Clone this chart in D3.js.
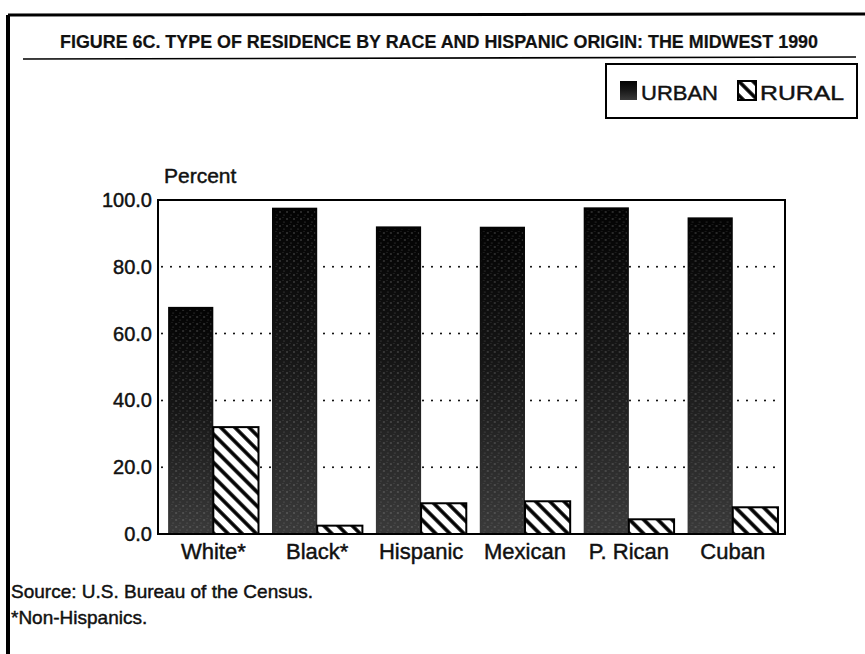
<!DOCTYPE html>
<html>
<head>
<meta charset="utf-8">
<script src="https://cdn.jsdelivr.net/npm/d3@7"></script>
<style>
  body { margin: 0; background: #fff; }
  text { font-family: "Liberation Sans", Arial, sans-serif; fill: #111; stroke: #111; stroke-width: 0.45px; }
</style>
</head>
<body>
<div id="chart"></div>
<script>
// Chart data
var categories = ["White*", "Black*", "Hispanic", "Mexican", "P. Rican", "Cuban"];
var series = ["URBAN", "RURAL"];
var urban = [68.0, 97.7, 92.1, 92.0, 97.8, 94.8];
var rural = [32.0, 2.5, 9.2, 9.8, 4.4, 8.0];
var yTicks = [0, 20, 40, 60, 80, 100];

var width = 865, height = 654;
var margin = { top: 200, right: 80, bottom: 120, left: 158 };

var svg = d3.select("#chart").append("svg")
    .attr("width", width)
    .attr("height", height);

var defs = svg.append("defs");

// grainy dark fill for urban bars
var grad = defs.append("linearGradient")
    .attr("id", "urbanGrad")
    .attr("x1", 0).attr("y1", 0).attr("x2", 0).attr("y2", 1);
grad.append("stop").attr("offset", "0%").attr("stop-color", "#030303");
grad.append("stop").attr("offset", "45%").attr("stop-color", "#161616");
grad.append("stop").attr("offset", "100%").attr("stop-color", "#3a3a3a");

var speck = defs.append("pattern")
    .attr("id", "speck")
    .attr("patternUnits", "userSpaceOnUse")
    .attr("width", 7).attr("height", 7);
speck.append("circle").attr("cx", 1).attr("cy", 2).attr("r", 0.7).attr("fill", "#aaa");
speck.append("circle").attr("cx", 5).attr("cy", 5).attr("r", 0.6).attr("fill", "#888");
speck.append("circle").attr("cx", 4).attr("cy", 0.5).attr("r", 0.4).attr("fill", "#999");

// diagonal hatch for rural bars
var hatch = defs.append("pattern")
    .attr("id", "hatch")
    .attr("patternUnits", "userSpaceOnUse")
    .attr("width", 10).attr("height", 10)
    .attr("patternTransform", "rotate(-45)");
hatch.append("rect").attr("width", 10).attr("height", 10).attr("fill", "#fff");
hatch.append("line")
    .attr("x1", 5).attr("y1", 0).attr("x2", 5).attr("y2", 10)
    .attr("stroke", "#000").attr("stroke-width", 3.6);

// outer frame (left and top edges of the page box)
svg.append("line").attr("x1", 8).attr("y1", 15).attr("x2", 8).attr("y2", height)
    .attr("stroke", "#000").attr("stroke-width", 4);
svg.append("line").attr("x1", 8).attr("y1", 15).attr("x2", width).attr("y2", 14)
    .attr("stroke", "#000").attr("stroke-width", 3);

// title
svg.append("text")
    .attr("x", 60).attr("y", 48)
    .attr("textLength", 758)
    .attr("lengthAdjust", "spacingAndGlyphs")
    .style("font-family", "'Liberation Sans Narrow', 'Liberation Sans', Arial, sans-serif")
    .style("font-weight", "bold")
    .style("font-size", "18px")
    .style("stroke-width", "0.2px")
    .text("FIGURE 6C.  TYPE OF RESIDENCE BY RACE AND HISPANIC ORIGIN: THE MIDWEST 1990");

svg.append("line").attr("x1", 23).attr("y1", 59).attr("x2", 856).attr("y2", 57)
    .attr("stroke", "#000").attr("stroke-width", 1.6);

// scales
var x0 = d3.scaleBand()
    .domain(categories)
    .range([margin.left, width - margin.right])
    .paddingInner(0.13)
    .paddingOuter(0.0825)
    .align(0.59);

var x1 = d3.scaleBand()
    .domain(series)
    .range([0, x0.bandwidth()]);

var y = d3.scaleLinear()
    .domain([0, 100])
    .range([height - margin.bottom, margin.top]);

var plotL = margin.left, plotR = width - margin.right;

// dotted grid
svg.append("g")
    .selectAll("line")
    .data(yTicks.filter(function (d) { return d > 0 && d < 100; }))
    .enter().append("line")
    .attr("x1", plotL + 4).attr("x2", plotR - 4)
    .attr("y1", function (d) { return y(d); })
    .attr("y2", function (d) { return y(d); })
    .attr("stroke", "#000")
    .attr("stroke-width", 2)
    .attr("stroke-linecap", "round")
    .attr("stroke-dasharray", "0,9");

// bars
var rows = categories.map(function (c, i) {
    return { cat: c, values: [{ key: "URBAN", v: urban[i] }, { key: "RURAL", v: rural[i] }] };
});

var groups = svg.append("g").selectAll("g")
    .data(rows)
    .enter().append("g")
    .attr("transform", function (d) { return "translate(" + x0(d.cat) + ",0)"; });

groups.selectAll("rect.urban")
    .data(function (d) { return [d.values[0]]; })
    .enter().append("rect")
    .attr("x", function (d) { return x1(d.key); })
    .attr("y", function (d) { return y(d.v); })
    .attr("width", x1.bandwidth())
    .attr("height", function (d) { return y(0) - y(d.v); })
    .attr("fill", "url(#urbanGrad)");

groups.selectAll("rect.speck")
    .data(function (d) { return [d.values[0]]; })
    .enter().append("rect")
    .attr("x", function (d) { return x1(d.key) + 2; })
    .attr("y", function (d) { return y(d.v) + 3; })
    .attr("width", x1.bandwidth() - 4)
    .attr("height", function (d) { return y(0) - y(d.v) - 3; })
    .attr("fill", "url(#speck)")
    .attr("opacity", 0.6);

groups.selectAll("rect.rural")
    .data(function (d) { return [d.values[1]]; })
    .enter().append("rect")
    .attr("x", function (d) { return x1(d.key); })
    .attr("y", function (d) { return y(d.v); })
    .attr("width", x1.bandwidth())
    .attr("height", function (d) { return y(0) - y(d.v); })
    .attr("fill", "url(#hatch)")
    .attr("stroke", "#000")
    .attr("stroke-width", 2);

// plot box
svg.append("rect")
    .attr("x", plotL).attr("y", y(100))
    .attr("width", plotR - plotL).attr("height", y(0) - y(100))
    .attr("fill", "none")
    .attr("stroke", "#000")
    .attr("stroke-width", 2);

// y axis labels
var yAxis = d3.axisLeft(y)
    .tickValues(yTicks)
    .tickSize(0)
    .tickPadding(6)
    .tickFormat(d3.format(".1f"));

svg.append("g")
    .attr("transform", "translate(" + plotL + ",0)")
    .call(yAxis)
    .call(function (g) { g.select(".domain").remove(); })
    .selectAll("text")
    .style("font-size", "20px")
    .style("font-family", "'Liberation Sans', Arial, sans-serif")
    .attr("fill", "#111");

svg.append("text")
    .attr("x", 164).attr("y", 183)
    .style("font-size", "21px")
    .text("Percent");

// x axis labels
var xAxis = d3.axisBottom(x0).tickSize(0).tickPadding(9);
svg.append("g")
    .attr("transform", "translate(0," + y(0) + ")")
    .call(xAxis)
    .call(function (g) { g.select(".domain").remove(); })
    .selectAll("text")
    .style("font-size", "22px")
    .style("font-family", "'Liberation Sans', Arial, sans-serif")
    .attr("fill", "#111");

// legend
var legend = svg.append("g");
legend.append("rect")
    .attr("x", 606).attr("y", 64)
    .attr("width", 251).attr("height", 54)
    .attr("fill", "#fff")
    .attr("stroke", "#000")
    .attr("stroke-width", 2);
legend.append("rect")
    .attr("x", 620).attr("y", 81).attr("width", 17).attr("height", 19)
    .attr("fill", "url(#urbanGrad)");
legend.append("text")
    .attr("x", 641).attr("y", 100)
    .attr("textLength", 77)
    .attr("lengthAdjust", "spacingAndGlyphs")
    .style("font-size", "21px")
    .text(series[0]);
legend.append("rect")
    .attr("x", 738).attr("y", 81).attr("width", 18).attr("height", 19)
    .attr("fill", "url(#hatch)")
    .attr("stroke", "#000")
    .attr("stroke-width", 2);
legend.append("text")
    .attr("x", 760).attr("y", 100)
    .attr("textLength", 84)
    .attr("lengthAdjust", "spacingAndGlyphs")
    .style("font-size", "21px")
    .text(series[1]);

// notes
svg.append("text")
    .attr("x", 11).attr("y", 598)
    .style("font-size", "19px")
    .text("Source: U.S. Bureau of the Census.");
svg.append("text")
    .attr("x", 11).attr("y", 624)
    .style("font-size", "19px")
    .text("*Non-Hispanics.");
</script>
</body>
</html>
